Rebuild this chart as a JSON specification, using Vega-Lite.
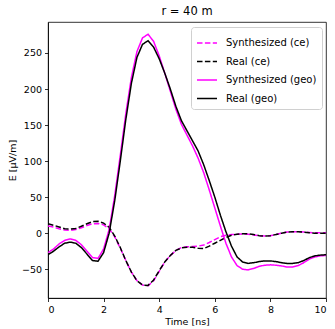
{
  "$schema": "https://vega.github.io/schema/vega-lite/v6.json",
  "width": 278,
  "height": 276,
  "autosize": "none",
  "padding": {"left": 48, "top": 22, "right": 9, "bottom": 31},
  "title": {"text": "r = 40 m", "font": "DejaVu Sans", "fontSize": 11.5, "fontWeight": "normal", "color": "#000", "offset": 5},
  "config": {
    "view": {"stroke": "#000", "strokeWidth": 0.8},
    "axis": {
      "labelFont": "DejaVu Sans", "labelFontSize": 9.5, "labelColor": "#000",
      "titleFont": "DejaVu Sans", "titleFontSize": 9.5, "titleColor": "#000", "titleFontWeight": "normal",
      "domainColor": "#000", "domainWidth": 0.8, "tickColor": "#000", "tickWidth": 0.8, "tickSize": 3.5,
      "grid": false, "labelPadding": 3
    }
  },
  "data": {"values": [
    {"t": 0.0, "sc": 10, "rc": 13, "sg": -27, "rg": -30},
    {"t": 0.2, "sc": 8.5, "rc": 11, "sg": -22, "rg": -25},
    {"t": 0.4, "sc": 6, "rc": 8.5, "sg": -15, "rg": -19},
    {"t": 0.6, "sc": 4.5, "rc": 6, "sg": -10, "rg": -14},
    {"t": 0.8, "sc": 4, "rc": 5.5, "sg": -8, "rg": -12.5},
    {"t": 1.0, "sc": 5, "rc": 6.5, "sg": -10, "rg": -14},
    {"t": 1.2, "sc": 7.5, "rc": 9.5, "sg": -16, "rg": -20},
    {"t": 1.4, "sc": 10.5, "rc": 13, "sg": -25, "rg": -29},
    {"t": 1.6, "sc": 13, "rc": 16, "sg": -34, "rg": -38},
    {"t": 1.8, "sc": 13.5, "rc": 16.5, "sg": -35, "rg": -39},
    {"t": 2.0, "sc": 11.5, "rc": 14, "sg": -22, "rg": -27},
    {"t": 2.2, "sc": 6, "rc": 8, "sg": 5, "rg": 0},
    {"t": 2.4, "sc": -5, "rc": -4, "sg": 52, "rg": 45},
    {"t": 2.6, "sc": -21, "rc": -20, "sg": 108, "rg": 100},
    {"t": 2.8, "sc": -38, "rc": -38, "sg": 166, "rg": 158},
    {"t": 3.0, "sc": -54, "rc": -54, "sg": 216, "rg": 208},
    {"t": 3.2, "sc": -66, "rc": -66, "sg": 252, "rg": 244},
    {"t": 3.4, "sc": -72, "rc": -72, "sg": 271, "rg": 262},
    {"t": 3.6, "sc": -73, "rc": -72.5, "sg": 276, "rg": 267},
    {"t": 3.8, "sc": -66, "rc": -65, "sg": 266, "rg": 258},
    {"t": 4.0, "sc": -53, "rc": -52, "sg": 246, "rg": 242},
    {"t": 4.2, "sc": -40, "rc": -40, "sg": 222, "rg": 222},
    {"t": 4.4, "sc": -31, "rc": -31, "sg": 197, "rg": 200},
    {"t": 4.6, "sc": -24, "rc": -24, "sg": 172, "rg": 176},
    {"t": 4.8, "sc": -20, "rc": -20.5, "sg": 151, "rg": 156},
    {"t": 5.0, "sc": -19, "rc": -19.5, "sg": 136, "rg": 142},
    {"t": 5.2, "sc": -18.5, "rc": -19.5, "sg": 121, "rg": 128},
    {"t": 5.4, "sc": -18, "rc": -21, "sg": 104, "rg": 114},
    {"t": 5.6, "sc": -16.5, "rc": -21.5, "sg": 84, "rg": 95},
    {"t": 5.8, "sc": -13, "rc": -18, "sg": 60, "rg": 73},
    {"t": 6.0, "sc": -9, "rc": -14, "sg": 35, "rg": 50},
    {"t": 6.2, "sc": -5, "rc": -10, "sg": 10, "rg": 25},
    {"t": 6.4, "sc": -3, "rc": -6, "sg": -14, "rg": 2},
    {"t": 6.6, "sc": -2, "rc": -3, "sg": -33, "rg": -18},
    {"t": 6.8, "sc": -1.5, "rc": -1.5, "sg": -45, "rg": -33},
    {"t": 7.0, "sc": -1, "rc": -1, "sg": -50, "rg": -40},
    {"t": 7.2, "sc": -1.5, "rc": -1, "sg": -51, "rg": -42},
    {"t": 7.4, "sc": -2.5, "rc": -2, "sg": -49, "rg": -41},
    {"t": 7.6, "sc": -3.5, "rc": -3.5, "sg": -46, "rg": -39.5},
    {"t": 7.8, "sc": -4, "rc": -4, "sg": -44.5, "rg": -38.5},
    {"t": 8.0, "sc": -3.5, "rc": -3.5, "sg": -44, "rg": -38.5},
    {"t": 8.2, "sc": -2, "rc": -2, "sg": -44.5, "rg": -39.5},
    {"t": 8.4, "sc": 0, "rc": 0, "sg": -45.5, "rg": -41},
    {"t": 8.6, "sc": 1.5, "rc": 1.5, "sg": -47, "rg": -42},
    {"t": 8.8, "sc": 2, "rc": 2, "sg": -47, "rg": -42},
    {"t": 9.0, "sc": 2, "rc": 2, "sg": -45, "rg": -41},
    {"t": 9.2, "sc": 1.5, "rc": 1.5, "sg": -41, "rg": -38},
    {"t": 9.4, "sc": 1, "rc": 0.5, "sg": -36, "rg": -34},
    {"t": 9.6, "sc": 0.5, "rc": 0, "sg": -33, "rg": -31.5},
    {"t": 9.8, "sc": 0.5, "rc": 0, "sg": -31.5, "rg": -30.5},
    {"t": 10.0, "sc": 0.5, "rc": 0, "sg": -31, "rg": -30}
  ]},
  "transform": [{"fold": ["sc", "rc", "sg", "rg"], "as": ["series", "E"]}],
  "mark": {"type": "line", "strokeWidth": 1.5, "clip": true},
  "encoding": {
    "x": {"field": "t", "type": "quantitative", "scale": {"domain": [0, 10], "nice": false, "zero": false},
      "axis": {"values": [0, 2, 4, 6, 8, 10], "title": "Time [ns]", "titlePadding": 2}},
    "y": {"field": "E", "type": "quantitative", "scale": {"domain": [-90, 293], "nice": false, "zero": false},
      "axis": {"values": [-50, 0, 50, 100, 150, 200, 250], "title": "E [μV/m]", "titlePadding": 4, "labelExpr": "replace(datum.label, '-', '−')"}},
    "color": {"field": "series", "type": "nominal",
      "scale": {"domain": ["sc", "rc", "sg", "rg"], "range": ["#ff00ff", "#000000", "#ff00ff", "#000000"]},
      "legend": {
        "title": null, "orient": "none", "legendX": 143, "legendY": 5,
        "labelExpr": "{'sc': 'Synthesized (ce)', 'rc': 'Real (ce)', 'sg': 'Synthesized (geo)', 'rg': 'Real (geo)'}[datum.label]",
        "labelFont": "DejaVu Sans", "labelFontSize": 10, "labelColor": "#000", "labelOffset": 8,
        "symbolType": "stroke", "symbolSize": 400, "symbolStrokeWidth": 1.5,
        "rowPadding": 2.5, "padding": 5, "strokeColor": "#d0d0d0", "fillColor": "#ffffff", "cornerRadius": 3,
        "labelLimit": 200
      }},
    "strokeDash": {"field": "series", "type": "nominal",
      "scale": {"domain": ["sc", "rc", "sg", "rg"], "range": [[5.5, 2.4], [5.5, 2.4], [1, 0], [1, 0]]}}
  }
}
